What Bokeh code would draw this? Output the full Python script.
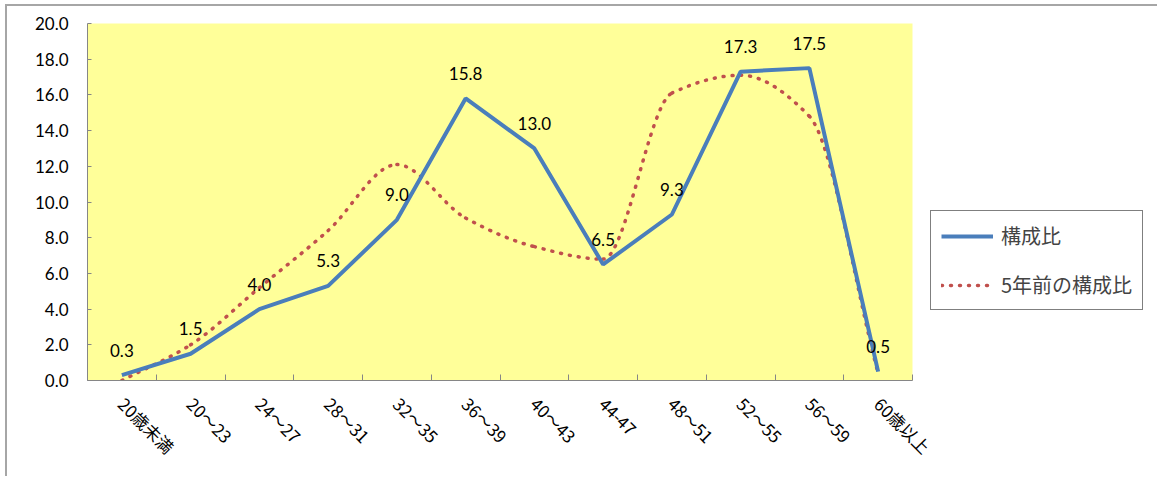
import math
from bokeh.plotting import figure
from bokeh.models import FixedTicker, Legend, LegendItem, Range1d, PrintfTickFormatter
from bokeh.core.properties import value
from bokeh.embed import file_html
from bokeh.resources import INLINE

categories = ["20歳未満", "20～23", "24～27", "28～31", "32～35", "36～39",
              "40～43", "44-47", "48～51", "52～55", "56～59", "60歳以上"]
current = [0.3, 1.5, 4.0, 5.3, 9.0, 15.8, 13.0, 6.5, 9.3, 17.3, 17.5, 0.5]
five_years_ago = [0.0, 2.0, 5.2, 8.4, 12.1, 9.1, 7.5, 6.8, 16.1, 17.1, 14.8, 0.4]
y_ticks = [0, 2, 4, 6, 8, 10, 12, 14, 16, 18, 20]
series_names = ["構成比", "5年前の構成比"]

n = len(categories)
centers = [i + 0.5 for i in range(n)]
boundaries = list(range(n + 1))

p = figure(frame_width=825, frame_height=357, output_backend="svg", toolbar_location=None,
           x_range=Range1d(0, n), y_range=Range1d(0, 20),
           min_border_left=80, min_border_right=0, min_border_top=17, min_border_bottom=96)
p.styles = {"border-top": "2px solid #a6a6a6", "border-left": "2px solid #a6a6a6",
            "margin-left": "5px", "margin-top": "4px"}
p.background_fill_color = "#FFFF99"
p.border_fill_color = "white"
p.outline_line_color = None
p.xgrid.visible = False
p.ygrid.visible = False

axis_color = "#868686"
# x axis
xa = p.xaxis[0]
xa.ticker = FixedTicker(ticks=centers, minor_ticks=boundaries)
xa.major_label_overrides = {c: lab for c, lab in zip(centers, categories)}
xa.major_label_orientation = -math.pi / 4
xa.major_tick_in = 0
xa.major_tick_out = 0
xa.minor_tick_in = 6
xa.minor_tick_out = 0
xa.minor_tick_line_color = axis_color
xa.axis_line_color = axis_color
xa.major_label_standoff = 20
xa.major_label_text_font = "Noto Sans CJK JP"
xa.major_label_text_font_size = "17px"
xa.major_label_text_color = "black"

# y axis
ya = p.yaxis[0]
ya.ticker = FixedTicker(ticks=y_ticks, minor_ticks=[])
ya.formatter = PrintfTickFormatter(format="%.1f")
ya.major_tick_in = 4
ya.major_tick_out = 0
ya.minor_tick_in = 0
ya.minor_tick_out = 0
ya.major_tick_line_color = axis_color
ya.axis_line_color = axis_color
ya.major_label_standoff = 19
ya.major_label_text_font = "Lato"
ya.major_label_text_font_size = "17px"
ya.major_label_text_color = "black"

# smoothed dotted line: monotone cubic (Fritsch-Carlson) bezier segments built from the data
slopes = [five_years_ago[i + 1] - five_years_ago[i] for i in range(n - 1)]
tangents = [slopes[0]]
for i in range(1, n - 1):
    a, b = slopes[i - 1], slopes[i]
    tangents.append(0.0 if a * b <= 0 else 2.0 / (1.0 / a + 1.0 / b))
tangents.append(slopes[-1])

x0, y0, x1, y1, cx0, cy0, cx1, cy1 = [], [], [], [], [], [], [], []
for i in range(n - 1):
    x0.append(centers[i]); y0.append(five_years_ago[i])
    x1.append(centers[i + 1]); y1.append(five_years_ago[i + 1])
    cx0.append(centers[i] + 1 / 3); cy0.append(five_years_ago[i] + tangents[i] / 3)
    cx1.append(centers[i + 1] - 1 / 3); cy1.append(five_years_ago[i + 1] - tangents[i + 1] / 3)

red = p.bezier(x0=x0, y0=y0, x1=x1, y1=y1, cx0=cx0, cy0=cy0, cx1=cx1, cy1=cy1,
               line_color="#C0504D", line_width=3.5, line_dash="1 8", line_cap="round")
blue = p.line(centers, current, line_color="#4A7EBB", line_width=4)

p.text(x=centers, y=current, text=[f"{v:.1f}" for v in current],
       text_align="center", text_baseline="middle", y_offset=-25,
       text_font=value("Lato"), text_font_size="17px", text_color="black")

legend = Legend(items=[LegendItem(label=series_names[0], renderers=[blue]),
                       LegendItem(label=series_names[1], renderers=[red])],
                location=(18, 70), orientation="vertical")
legend.border_line_color = "black"
legend.border_line_width = 1
legend.background_fill_color = "white"
legend.background_fill_alpha = 1
legend.label_text_font = "Noto Sans CJK JP"
legend.label_text_font_size = "20px"
legend.glyph_width = 52
legend.glyph_height = 20
legend.label_height = 20
legend.label_standoff = 8
legend.padding = 10
legend.spacing = 20
legend.margin = 0
p.add_layout(legend, "right")

open("out.html", "w").write(file_html(p, INLINE))
